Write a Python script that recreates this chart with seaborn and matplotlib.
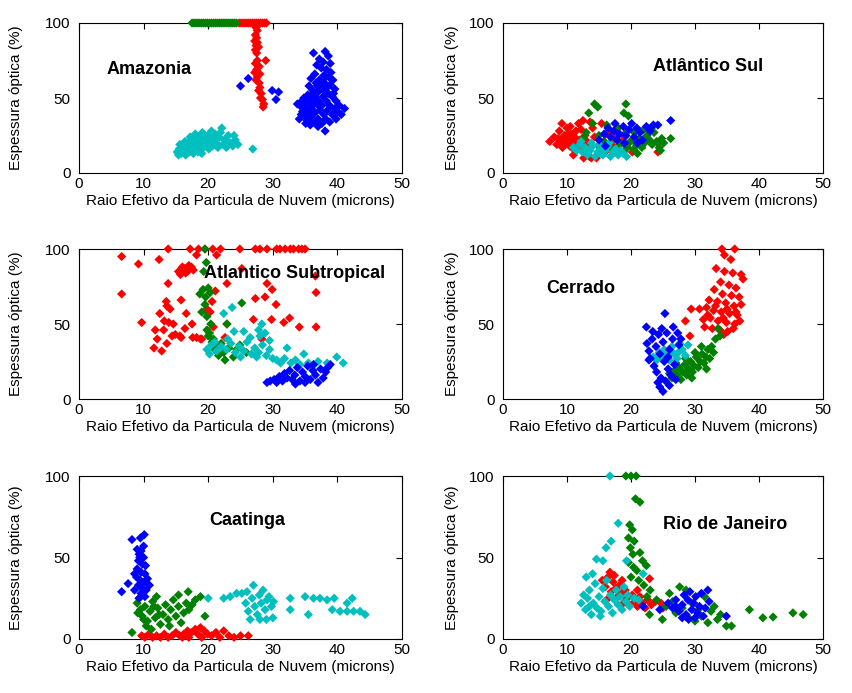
import matplotlib
matplotlib.use("Agg")
import matplotlib.pyplot as plt
import seaborn as sns
import pandas as pd

# ---------------- data ----------------
PANELS = ["Amazonia", "Atlântico Sul", "Atlantico Subtropical", "Cerrado", "Caatinga", "Rio de Janeiro"]
XTICKS = [0, 10, 20, 30, 40, 50]
YTICKS = [0, 50, 100]
XLABEL = "Raio Efetivo da Particula de Nuvem (microns)"
YLABEL = "Espessura óptica (%)"

# Amazonia
AMZ_RED_X = [24.8, 25.1, 25.4, 25.7, 26.0, 26.3, 26.6, 26.9, 27.2, 27.5, 27.8, 28.1, 28.4, 28.7, 29.0,
             27.4, 27.6, 27.3, 27.5, 27.2, 27.6, 27.4, 27.8, 27.3, 27.5, 27.6, 28.9, 27.3, 27.9, 27.5, 27.2,
             28.0, 27.6, 27.4, 27.9, 28.0, 27.8, 28.2, 28.1, 28.4, 28.6, 28.5]
AMZ_RED_Y = [100, 100, 100, 100, 100, 100, 100, 100, 100, 100, 100, 100, 100, 100, 100,
             97, 95, 92, 90, 88, 87, 85, 84, 82, 80, 75, 75, 73, 71, 69, 67,
             66, 64, 62, 60, 57, 55, 53, 50, 49, 46, 44]
AMZ_GREEN_X = [17.5, 17.8, 18.1, 18.4, 18.7, 19.0, 19.3, 19.6, 19.9, 20.2, 20.5, 20.8, 21.1, 21.4, 21.7,
               22.0, 22.3, 22.6, 22.9, 23.2, 23.5, 23.8, 24.1, 24.4]
AMZ_GREEN_Y = [100, 100, 100, 100, 100, 100, 100, 100, 100, 100, 100, 100, 100, 100, 100,
               100, 100, 100, 100, 100, 100, 100, 100, 100]
AMZ_CYAN_X = [15.2, 15.5, 15.8, 16.0, 16.2, 16.5, 16.7, 16.9, 17.1, 17.3, 17.5, 17.7, 17.9, 18.1, 18.3,
              18.5, 18.7, 18.9, 19.1, 19.3, 19.5, 19.7, 19.9, 20.1, 20.3, 20.5, 20.7, 20.9, 21.1, 21.3,
              21.5, 21.7, 22.1, 22.3, 22.5, 22.8, 23.1, 23.4, 23.8, 24.2, 24.6, 26.9, 16.4, 17.2, 18.0,
              19.0, 15.6, 16.8, 18.6, 20.0, 15.4, 16.1, 17.0, 17.8, 18.4, 19.4, 20.6, 21.9, 22.9, 24.0]
AMZ_CYAN_Y = [14, 16, 13, 18, 15, 12, 17, 20, 14, 16, 19, 13, 22, 16, 18,
              24, 15, 20, 27, 17, 22, 19, 25, 16, 21, 28, 18, 23, 26, 20,
              17, 24, 30, 19, 22, 17, 25, 20, 18, 22, 19, 16, 21, 24, 26,
              13, 19, 14, 21, 19, 12, 14, 18, 19, 14, 24, 24, 27, 21, 25]
AMZ_BLUE_X = [36.3, 38.1, 38.6, 37.2, 37.8, 38.9, 36.8, 37.5, 38.3, 39.0, 36.5, 37.9, 38.7, 35.9, 37.2,
              39.3, 36.7, 38.0, 38.9, 35.6, 37.4, 38.4, 39.6, 36.2, 37.0, 38.6, 35.4, 36.6, 37.8, 39.2,
              34.8, 36.0, 37.1, 38.3, 39.8, 35.2, 36.4, 37.6, 38.8, 40.3, 34.2, 35.0, 36.0, 37.3, 38.5,
              39.6, 41.1, 34.6, 35.5, 36.5, 37.9, 39.2, 40.6, 34.9, 36.0, 37.0, 38.2, 39.8, 35.3, 36.3,
              37.6, 38.8, 35.8, 37.0, 38.1, 34.1, 35.7, 36.9, 38.2, 37.3, 33.8, 34.4, 35.1, 36.1, 39.4,
              40.0, 34.5, 35.9, 36.8, 38.0,
              25.0, 26.2, 29.9, 30.9, 30.5]
AMZ_BLUE_Y = [80, 81, 78, 76, 74, 73, 72, 70, 69, 67, 66, 65, 64, 63, 62,
              62, 60, 60, 59, 58, 57, 57, 56, 55, 54, 53, 52, 51, 51, 51,
              50, 49, 48, 48, 48, 47, 46, 45, 45, 45, 45, 44, 43, 42, 42,
              43, 43, 41, 40, 40, 39, 39, 39, 38, 37, 36, 36, 36, 35, 34,
              33, 34, 32, 31, 28, 36, 42, 58, 64, 44, 46, 39, 33, 45, 53,
              41, 48, 52, 34, 55,
              58, 63, 55, 54, 49]

# Atlântico Sul
ASU_RED_X = [7.3, 8.0, 8.4, 8.8, 9.0, 9.3, 9.6, 9.8, 10.0, 10.2, 10.4, 10.6, 10.8, 11.0, 11.2,
             11.4, 11.6, 11.8, 12.0, 12.3, 12.5, 12.8, 13.0, 13.2, 13.5, 13.8, 14.0, 14.3, 14.6, 15.0,
             15.4, 15.8, 16.2, 16.5, 17.0, 17.5, 18.0, 18.6, 19.3, 20.2, 24.2, 9.2, 10.5, 12.2, 13.6,
             16.0, 17.8, 19.0, 11.0, 12.6, 8.6, 9.4, 10.1, 10.9, 11.7, 12.9]
ASU_RED_Y = [21, 24, 19, 28, 22, 17, 25, 20, 30, 23, 18, 26, 21, 16, 24,
             28, 20, 33, 22, 18, 35, 25, 14, 20, 11, 10, 30, 24, 10, 18,
             33, 21, 15, 27, 19, 23, 16, 21, 18, 14, 14, 33, 31, 29, 34,
             26, 27, 24, 12, 10, 23, 19, 26, 24, 18, 22]
ASU_GREEN_X = [13.4, 14.3, 14.8, 19.2, 18.9, 19.6, 26.2, 12.5, 13.0, 14.0, 15.0, 15.8, 16.5, 17.2, 17.8,
               18.3, 18.8, 19.4, 19.9, 20.4, 20.9, 21.3, 21.7, 22.1, 22.5, 22.9, 23.3, 23.6, 24.0, 24.4,
               24.8, 25.1, 18.0, 20.5, 22.0, 16.2, 23.2, 24.6, 21.0, 19.0]
ASU_GREEN_Y = [40, 46, 44, 46, 40, 38, 23, 23, 27, 33, 25, 21, 18, 15, 22,
               19, 14, 17, 21, 16, 19, 23, 17, 20, 25, 22, 19, 27, 21, 17,
               23, 20, 30, 27, 29, 32, 30, 15, 13, 26]
ASU_CYAN_X = [11.0, 11.5, 12.0, 12.4, 12.8, 13.2, 13.6, 14.0, 14.4, 14.8, 15.2, 15.6, 16.0, 16.4, 16.8,
              17.2, 17.6, 18.0, 18.4, 18.8, 19.3, 12.2, 13.8, 15.0, 16.6]
ASU_CYAN_Y = [17, 15, 19, 14, 17, 12, 15, 18, 11, 14, 16, 12, 15, 18, 11,
              14, 16, 12, 15, 13, 11, 21, 20, 19, 20]
ASU_BLUE_X = [15.0, 15.8, 16.4, 16.8, 17.3, 17.8, 18.2, 18.8, 19.2, 19.7, 20.1, 20.5, 20.9, 21.4, 21.8,
              22.4, 23.0, 23.5, 24.2, 26.2, 16.0, 19.0, 21.0, 17.5]
ASU_BLUE_Y = [22, 26, 30, 24, 28, 22, 26, 31, 25, 29, 33, 24, 30, 27, 22,
              31, 28, 32, 32, 35, 18, 20, 20, 33]

# Atlantico Subtropical
AST_RED_X = [13.8, 17.2, 18.5, 19.5, 20.7, 21.9, 24.9, 27.3, 28.0, 29.1, 30.6, 31.1, 31.9, 32.7, 33.2,
             34.0, 34.5, 35.0,
             6.6, 9.2, 12.4, 6.6, 13.8, 9.7, 15.4, 16.0, 16.5, 17.0, 17.7, 18.2, 21.3, 22.9, 21.1,
             25.2, 27.3, 28.8, 29.1, 29.9, 30.5, 31.7, 32.6, 34.1, 36.7, 36.7, 36.6, 27.0, 29.8, 28.3,
             11.8, 12.1, 11.6, 12.8, 13.6, 13.1, 12.5, 13.6, 13.5, 14.1, 13.2, 13.9, 14.6, 14.4, 14.9,
             15.6, 15.8, 15.8, 16.6, 16.4, 17.5, 17.6, 18.2, 18.8, 19.0,
             19.8, 20.0, 20.3, 20.8, 20.6, 22.9, 22.6, 15.7, 16.3, 16.8, 17.4]
AST_RED_Y = [100, 100, 100, 100, 100, 100, 100, 100, 100, 100, 100, 100, 100, 100, 100,
             100, 100, 100,
             95, 90, 93, 70, 77, 51, 85, 88, 84, 89, 86, 96, 96, 77, 72,
             87, 67, 68, 77, 73, 63, 51, 54, 48, 71, 48, 82, 53, 53, 40,
             46, 40, 34, 32, 37, 46, 57, 62, 65, 60, 52, 51, 50, 42, 43,
             42, 41, 66, 57, 47, 50, 41, 41, 40, 40,
             60, 57, 58, 48, 65, 50, 41, 83, 87, 85, 88]
AST_GREEN_X = [19.5, 19.3, 19.7, 18.7, 19.2, 19.6, 20.0, 20.3, 19.5, 19.8, 19.8, 20.0, 20.6, 21.3, 22.4,
               22.6, 23.9, 24.4, 25.2, 22.9, 24.9, 25.9, 20.2, 20.8, 19.0, 21.0, 22.0, 23.2, 21.6, 20.4]
AST_GREEN_Y = [100, 85, 91, 70, 73, 68, 74, 71, 63, 55, 46, 42, 38, 35, 31,
               26, 28, 33, 64, 50, 36, 31, 44, 40, 58, 33, 37, 34, 29, 50]
AST_CYAN_X = [22.4, 23.7, 24.0, 25.5, 28.3, 27.8, 28.0, 19.8, 20.5, 21.3, 22.0, 22.8, 23.5, 24.2, 24.8,
              25.5, 26.0, 26.7, 27.2, 27.8, 28.4, 29.0, 29.5, 30.0, 30.6, 31.2, 31.8, 32.2, 32.8, 33.5,
              34.2, 34.8, 35.5, 36.2, 37.0, 38.4, 39.9, 40.9, 21.0, 23.0, 26.5, 29.5, 28.8, 20.2, 25.0,
              27.5]
AST_CYAN_Y = [57, 61, 45, 45, 50, 46, 42, 33, 36, 32, 35, 33, 37, 31, 35,
              32, 38, 30, 34, 31, 36, 29, 33, 27, 26, 24, 27, 34, 24, 26,
              23, 30, 24, 22, 25, 24, 28, 24, 38, 40, 41, 39, 44, 30, 28,
              28]
AST_BLUE_X = [29.1, 29.6, 30.2, 30.6, 31.0, 31.5, 31.8, 32.2, 32.6, 33.0, 33.4, 33.8, 34.2, 34.6, 35.0,
              35.4, 35.8, 36.2, 36.3, 36.6, 37.0, 37.4, 37.8, 38.2, 38.9, 38.5, 35.0, 33.5]
AST_BLUE_Y = [11, 12, 13, 11, 15, 12, 17, 14, 19, 13, 16, 21, 12, 18, 15,
              22, 13, 19, 23, 16, 11, 20, 14, 18, 23, 21, 11, 10]

# Cerrado
CER_RED_X = [29.2, 28.5, 29.4, 31.3, 30.7, 34.2, 36.2, 34.6, 35.6, 33.3, 34.6, 35.9, 37.5, 37.2, 34.0,
             35.3, 36.4, 33.0, 34.3, 35.7, 36.9, 32.2, 33.5, 34.8, 36.1, 37.2, 31.8, 32.9, 34.1, 35.4,
             36.6, 32.4, 33.6, 34.9, 36.2, 37.0, 31.5, 32.7, 33.9, 35.1, 36.0, 34.5, 33.2, 35.0, 34.4,
             32.0, 36.4]
CER_RED_Y = [42, 52, 60, 53, 60, 100, 100, 96, 93, 87, 85, 84, 80, 83, 78,
             76, 74, 73, 70, 69, 68, 66, 65, 64, 62, 63, 61, 59, 58, 57,
             56, 54, 52, 51, 50, 52, 48, 47, 46, 45, 47, 43, 62, 60, 54,
             56, 58]
CER_GREEN_X = [26.0, 26.4, 26.8, 27.2, 27.5, 27.8, 28.1, 28.4, 28.7, 29.0, 29.3, 29.6, 29.9, 30.2, 30.5,
               30.8, 31.1, 31.4, 31.7, 32.0, 32.3, 32.6, 32.9, 33.2, 33.6, 33.9, 27.0, 28.5, 30.0, 31.0,
               29.5, 31.8]
CER_GREEN_Y = [17, 14, 19, 16, 21, 13, 18, 23, 16, 20, 25, 18, 22, 28, 21,
               25, 30, 24, 28, 33, 27, 35, 31, 40, 47, 42, 24, 27, 31, 35,
               14, 20]
CER_CYAN_X = [23.5, 24.0, 24.4, 24.8, 25.2, 25.6, 26.0, 26.4, 26.8, 27.2, 27.6, 28.0, 28.5, 28.9, 25.0,
              26.2, 27.4, 24.6]
CER_CYAN_Y = [28, 26, 31, 27, 33, 29, 26, 35, 30, 27, 37, 33, 29, 36, 30,
              31, 31, 28]
CER_BLUE_X = [22.4, 25.3, 25.0, 24.5, 26.6, 22.5, 22.8, 23.0, 23.3, 23.6, 23.9, 24.0, 24.3, 24.5, 24.7,
              25.0, 25.2, 25.4, 25.6, 25.8, 26.0, 26.2, 26.5, 26.8, 27.0, 27.3, 27.5, 24.2, 23.4, 25.8,
              22.8, 26.0, 24.8, 27.8]
CER_BLUE_Y = [48, 57, 5, 8, 48, 37, 32, 27, 40, 22, 35, 18, 43, 30, 14,
              38, 25, 12, 44, 20, 33, 16, 40, 23, 13, 44, 36, 11, 45, 28,
              26, 9, 47, 40]

# Caatinga
CAA_RED_X = [9.7, 10.2, 10.8, 11.4, 12.0, 12.6, 13.2, 13.8, 14.4, 15.0, 15.6, 16.2, 16.8, 17.4, 18.0,
             18.8, 19.4, 19.9, 20.5, 21.2, 22.4, 23.2, 24.0, 25.0, 26.2, 17.0, 19.0, 21.8, 16.0, 18.4]
CAA_RED_Y = [2, 1, 3, 1, 2, 1, 3, 1, 2, 4, 2, 3, 5, 4, 6,
             7, 5, 3, 2, 4, 5, 2, 1, 2, 2, 1, 1, 1, 1, 3]
CAA_GREEN_X = [8.2, 16.9, 15.4, 18.8, 19.5, 9.0, 9.5, 9.8, 10.2, 10.6, 11.0, 11.4, 11.8, 12.2, 12.6,
               13.0, 13.4, 13.8, 14.2, 14.6, 15.0, 15.4, 15.8, 16.2, 16.6, 17.0, 17.5, 18.0, 10.4, 12.0,
               14.0, 9.3, 11.2, 9.1, 10.0, 11.6, 12.4]
CAA_GREEN_Y = [4, 29, 27, 26, 14, 22, 18, 14, 20, 11, 17, 23, 13, 19, 9,
               15, 21, 12, 18, 24, 14, 20, 10, 16, 22, 18, 21, 24, 8, 26,
               8, 25, 6, 16, 12, 20, 15]
CAA_CYAN_X = [20.0, 22.4, 23.4, 24.4, 25.2, 26.0, 27.0, 25.8, 26.2, 26.5, 26.8, 27.2, 27.6, 27.9, 28.2,
              28.5, 28.8, 29.1, 29.4, 29.8, 30.1, 28.0, 29.0, 30.0, 32.7, 32.7, 35.0, 35.5, 36.3, 37.3,
              38.4, 39.2, 39.5, 41.5, 42.3, 42.5, 43.5, 44.3, 40.4, 41.5]
CAA_CYAN_Y = [25, 25, 26, 28, 28, 29, 33, 22, 17, 12, 25, 20, 15, 27, 22,
              30, 18, 24, 26, 20, 23, 12, 12, 13, 25, 18, 26, 15, 25, 25,
              24, 18, 25, 22, 25, 17, 17, 15, 17, 17]
CAA_BLUE_X = [8.2, 9.5, 10.1, 6.6, 7.6, 10.2, 9.0, 9.3, 9.6, 10.0, 9.2, 9.8, 10.3, 9.0, 9.6,
              10.2, 8.9, 9.5, 10.1, 10.6, 9.2, 9.8, 10.4, 8.6, 9.6, 10.9, 9.4, 10.0, 8.6, 9.3]
CAA_BLUE_Y = [61, 62, 64, 29, 34, 26, 55, 52, 54, 50, 48, 46, 45, 43, 41,
              40, 38, 36, 35, 37, 33, 31, 30, 30, 28, 33, 50, 57, 40, 25]

# Rio de Janeiro
RIO_RED_X = [16.7, 22.9, 24.7, 15.5, 16.0, 16.4, 16.9, 17.2, 17.6, 17.9, 18.2, 18.5, 18.8, 19.1, 19.4,
             19.8, 20.2, 20.6, 21.0, 21.4, 21.8, 22.2, 22.6, 23.2, 23.8, 25.0, 16.2, 17.4, 18.6, 21.0]
RIO_RED_Y = [41, 37, 22, 36, 32, 38, 29, 35, 31, 26, 33, 28, 22, 30, 25,
             21, 27, 23, 20, 26, 22, 19, 24, 21, 23, 19, 24, 39, 36, 30]
RIO_GREEN_X = [19.2, 20.0, 20.8, 20.7, 21.4, 19.8, 20.2, 19.6, 20.5, 19.9, 20.3, 21.4, 19.6, 20.4, 20.9,
               22.4, 20.0, 21.2, 22.0, 23.0, 22.9, 24.9, 27.6, 28.6, 34.9, 35.7, 38.5, 40.6, 42.2, 45.3,
               46.9, 24.0, 25.5, 26.5, 27.0, 28.0, 29.0, 30.0, 31.0, 32.0, 32.5, 33.5, 34.0, 26.0, 29.5,
               31.5, 22.5, 30.5, 33.0, 21.8]
RIO_GREEN_Y = [100, 100, 100, 86, 84, 70, 67, 62, 60, 56, 52, 53, 47, 44, 42,
               45, 38, 36, 33, 30, 15, 12, 32, 30, 8, 8, 18, 13, 13.5, 16,
               15, 24, 20, 23, 16, 19, 13, 11, 14, 10, 17, 12, 15, 28, 22,
               26, 26, 18, 20, 48]
RIO_CYAN_X = [16.7, 18.0, 16.9, 16.1, 14.6, 15.6, 19.3, 21.9, 12.2, 12.6, 12.9, 13.2, 13.5, 13.8, 14.1,
              14.4, 14.7, 15.0, 15.3, 15.6, 15.9, 16.2, 16.5, 16.8, 17.1, 17.4, 17.7, 18.0, 18.3, 18.6,
              18.9, 19.2, 19.5, 19.8, 13.0, 14.0, 20.5, 21.2, 13.5, 15.2]
RIO_CYAN_Y = [100, 71, 60, 56, 49, 48, 48, 40, 22, 27, 18, 25, 30, 15, 22,
              34, 19, 26, 17, 31, 23, 36, 20, 27, 16, 24, 30, 21, 26, 18,
              32, 23, 27, 20, 38, 40, 25, 24, 20, 14]
RIO_BLUE_X = [21.9, 24.5, 32.0, 34.9, 25.8, 26.5, 27.0, 27.5, 28.0, 28.3, 28.6, 28.9, 29.2, 29.5, 29.8,
              30.1, 30.4, 30.7, 31.0, 31.3, 31.6, 32.2, 29.0, 30.0, 28.0, 27.0]
RIO_BLUE_Y = [20, 18, 30, 14, 22, 19, 24, 17, 21, 27, 15, 24, 29, 18, 22,
              26, 16, 20, 28, 14, 19, 23, 12, 13, 13, 20]

GROUPS = ["vermelho", "verde", "ciano", "azul"]
PALETTE = {"vermelho": "#FF0000", "verde": "#008000", "ciano": "#00BFBF", "azul": "#0000FF"}

SERIES = {
    "Amazonia": [(AMZ_RED_X, AMZ_RED_Y), (AMZ_GREEN_X, AMZ_GREEN_Y), (AMZ_CYAN_X, AMZ_CYAN_Y), (AMZ_BLUE_X, AMZ_BLUE_Y)],
    "Atlântico Sul": [(ASU_RED_X, ASU_RED_Y), (ASU_GREEN_X, ASU_GREEN_Y), (ASU_CYAN_X, ASU_CYAN_Y), (ASU_BLUE_X, ASU_BLUE_Y)],
    "Atlantico Subtropical": [(AST_RED_X, AST_RED_Y), (AST_GREEN_X, AST_GREEN_Y), (AST_CYAN_X, AST_CYAN_Y), (AST_BLUE_X, AST_BLUE_Y)],
    "Cerrado": [(CER_RED_X, CER_RED_Y), (CER_GREEN_X, CER_GREEN_Y), (CER_CYAN_X, CER_CYAN_Y), (CER_BLUE_X, CER_BLUE_Y)],
    "Caatinga": [(CAA_RED_X, CAA_RED_Y), (CAA_GREEN_X, CAA_GREEN_Y), (CAA_CYAN_X, CAA_CYAN_Y), (CAA_BLUE_X, CAA_BLUE_Y)],
    "Rio de Janeiro": [(RIO_RED_X, RIO_RED_Y), (RIO_GREEN_X, RIO_GREEN_Y), (RIO_CYAN_X, RIO_CYAN_Y), (RIO_BLUE_X, RIO_BLUE_Y)],
}

# ---------------- layout ----------------
sns.set_style("white")
plt.rcParams["font.family"] = ["Liberation Sans", "DejaVu Sans"]
plt.rcParams["text.color"] = "black"
plt.rcParams["axes.labelcolor"] = "black"
plt.rcParams["xtick.color"] = "black"
plt.rcParams["ytick.color"] = "black"

W, H = 852, 693
fig = plt.figure(figsize=(W / 100, H / 100), dpi=100)

# pixel boxes (left, top, right, bottom)
BOXES = [(79, 23, 402, 173), (503, 23, 823, 173),
         (79, 249, 402, 399), (503, 249, 823, 399),
         (79, 476, 402, 639), (503, 476, 823, 639)]
YLABEL_PAD = [16, 7, 16, 7, 16, 7]
# title anchors (x data, y data, ha)
TITLE_POS = [(4.3, 69, "left"), (32, 71, "center"), (19.3, 84, "left"),
             (6.8, 74, "left"), (26, 73, "center"), (25, 70, "left")]

for name, box, tpos, ypad in zip(PANELS, BOXES, TITLE_POS, YLABEL_PAD):
    l, t, r, b = box
    ax = fig.add_axes([l / W, 1 - b / H, (r - l) / W, (b - t) / H])
    rows = []
    for grp, (xs, ys) in zip(GROUPS, SERIES[name]):
        for xv, yv in zip(xs, ys):
            rows.append({"raio": xv, "esp": yv, "grupo": grp})
    df = pd.DataFrame(rows)
    sns.scatterplot(data=df, x="raio", y="esp", hue="grupo", hue_order=GROUPS,
                    palette=PALETTE, marker="D", s=22, linewidth=0, legend=False,
                    ax=ax, clip_on=False, zorder=3)
    ax.set_xlim(0, 50)
    ax.set_ylim(0, 100)
    ax.set_xticks(XTICKS)
    ax.set_yticks(YTICKS)
    ax.set_xticklabels([str(v) for v in XTICKS])
    ax.set_yticklabels([str(v) for v in YTICKS])
    ax.tick_params(direction="in", length=4, width=0.8, top=True, right=True,
                   labelsize=11, colors="black", pad=3)
    ax.tick_params(axis="y", pad=6)
    for sp in ax.spines.values():
        sp.set_visible(True)
        sp.set_color("black")
        sp.set_linewidth(0.8)
    ax.set_xlabel(XLABEL, fontsize=11, labelpad=2, color="black")
    ax.set_ylabel(YLABEL, fontsize=11, labelpad=ypad, color="black")
    ax.text(tpos[0], tpos[1], name, fontsize=13, fontweight="bold", color="black",
            ha=tpos[2], va="center", zorder=5)

fig.savefig("out.png", dpi=100, facecolor="white")
